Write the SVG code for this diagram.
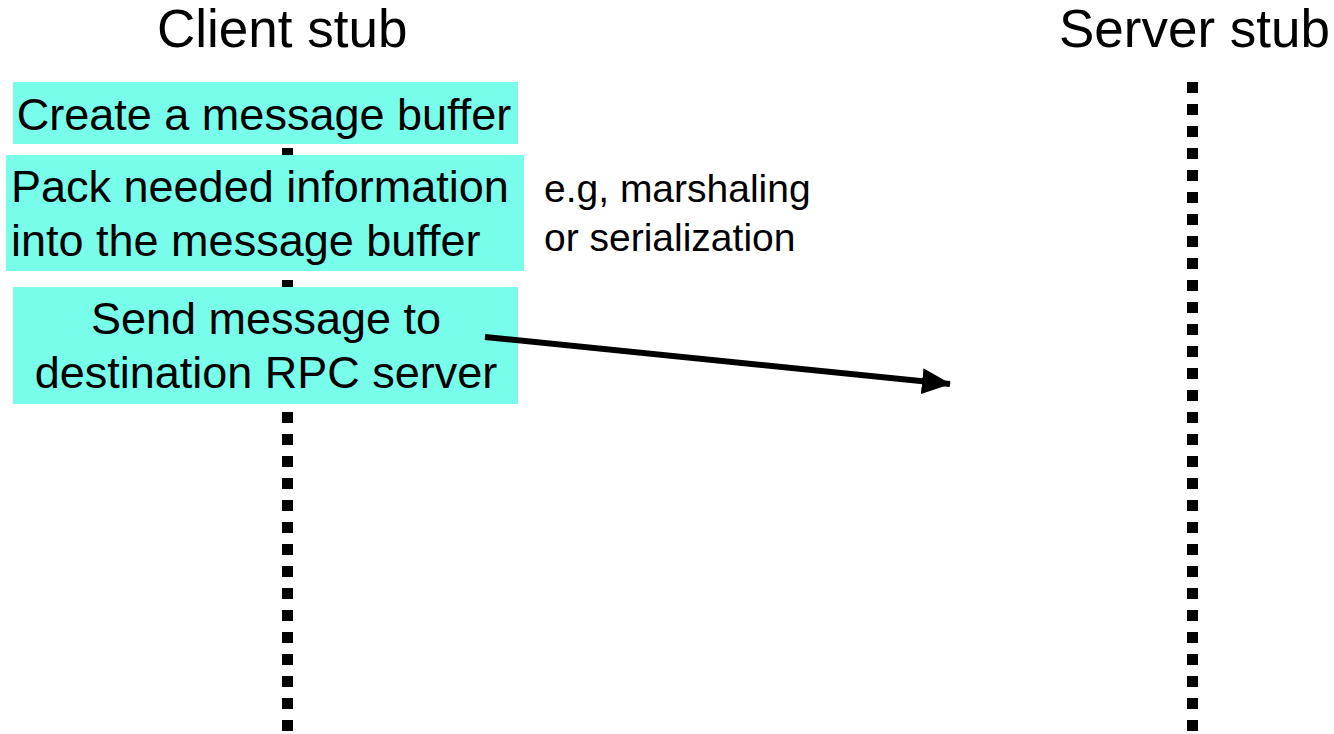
<svg xmlns="http://www.w3.org/2000/svg" width="1334" height="734" viewBox="0 0 1334 734">
  <style>
    .t { font-family: "Liberation Sans", Arial, Helvetica, sans-serif; fill: #000; }
    .title { font-size: 53px; }
    .body { font-size: 45px; }
    .note { font-size: 39px; }
    .box { fill: #78fdea; }
    .life { stroke: #000; stroke-width: 11; stroke-dasharray: 11 11; fill: none; }
  </style>
  <defs>
    <marker id="ah" markerUnits="userSpaceOnUse" markerWidth="30" markerHeight="30" viewBox="0 0 30 30" refX="28" refY="15" orient="auto">
      <path d="M0,2 L29,15 L0,28 Z" fill="#000"/>
    </marker>
  </defs>
  <rect width="1334" height="734" fill="#fff"/>

  <g id="client-stub">
    <text class="t title" x="157" y="47">Client stub</text>
    <line class="life" x1="287.5" y1="82" x2="287.5" y2="734"/>
  </g>
  <g id="server-stub">
    <text class="t title" x="1059" y="47">Server stub</text>
    <line class="life" x1="1192.5" y1="82" x2="1192.5" y2="734"/>
  </g>

  <g id="create-buffer">
    <rect class="box" x="13" y="82" width="505" height="62"/>
    <text class="t body" x="264" y="130" text-anchor="middle">Create a message buffer</text>
  </g>
  <g id="pack-info">
    <rect class="box" x="6" y="155" width="518" height="116"/>
    <text class="t body" x="11" y="202">Pack needed information</text>
    <text class="t body" x="11" y="256">into the message buffer</text>
  </g>
  <g id="send-message">
    <rect class="box" x="13" y="287" width="505" height="117"/>
    <text class="t body" x="266" y="334" text-anchor="middle">Send message to</text>
    <text class="t body" x="266" y="388" text-anchor="middle">destination RPC server</text>
  </g>
  <g id="note">
    <text class="t note" x="544" y="202">e.g, marshaling</text>
    <text class="t note" x="544" y="251">or serialization</text>
  </g>

  <g id="connectors">
    <line x1="485" y1="337" x2="950" y2="384" stroke="#000" stroke-width="6" marker-end="url(#ah)"/>
  </g>
</svg>
